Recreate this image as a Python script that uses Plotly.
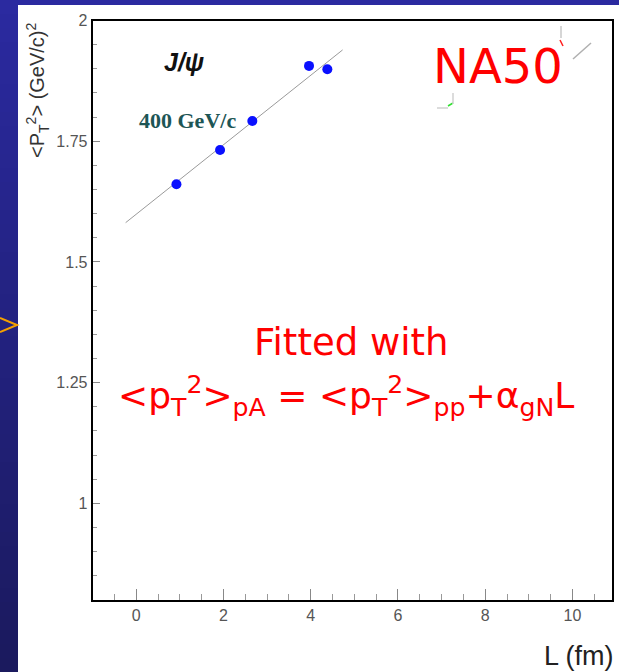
import numpy as np
import plotly.graph_objects as go

# J/psi mean squared transverse momentum vs nuclear path length L (NA50, 400 GeV/c p-A)
L_FM = [0.92, 1.92, 2.66, 3.96, 4.38]
PT2_MEAN = [1.661, 1.732, 1.792, 1.906, 1.899]

# linear fit <pT^2>_pA = <pT^2>_pp + alpha_gN * L
FIT_PT2_PP = 1.599
FIT_ALPHA_GN = 0.0719
FIT_L_RANGE = [-0.245, 4.73]

X_TICKS = [0, 2, 4, 6, 8, 10]
X_TICK_TEXT = ["0", "2", "4", "6", "8", "10"]
Y_TICKS = [1.0, 1.25, 1.5, 1.75, 2.0]
Y_TICK_TEXT = ["1", "1.25", "1.5", "1.75", "2"]

W, H = 619, 672


def px(x):
    return x / W


def py(y):
    return 1 - y / H


fig = go.Figure()

fit_l = np.array(FIT_L_RANGE)
fig.add_trace(go.Scatter(
    x=fit_l, y=FIT_PT2_PP + FIT_ALPHA_GN * fit_l,
    mode="lines", line=dict(color="#9a9a9a", width=1),
    hoverinfo="skip", showlegend=False,
))
fig.add_trace(go.Scatter(
    x=L_FM, y=PT2_MEAN, mode="markers",
    marker=dict(color="#0a10ff", size=10, line=dict(width=0)),
    showlegend=False,
))

# slide background: blue gradient strip on the left, thin band along the top
shapes = []
n_bands = 48
top_rgb = np.array([43, 42, 160])
bot_rgb = np.array([27, 26, 94])
for i in range(n_bands):
    t = i / (n_bands - 1)
    c = (top_rgb * (1 - t) + bot_rgb * t).astype(int)
    y0 = i * H / n_bands
    # each band runs to the bottom so the next one overlaps it without seams
    shapes.append(dict(type="rect", xref="paper", yref="paper",
                       x0=0, x1=px(18), y0=0, y1=py(y0),
                       fillcolor=f"rgb({c[0]},{c[1]},{c[2]})", line=dict(width=0),
                       layer="below"))
shapes.append(dict(type="rect", xref="paper", yref="paper",
                   x0=0, x1=1, y0=py(5), y1=1,
                   fillcolor="rgb(43,42,160)", line=dict(width=0), layer="below"))
# orange bullet chevron on the slide edge
shapes.append(dict(type="path", xref="paper", yref="paper",
                   path=f"M {px(0)},{py(318)} L {px(17)},{py(325)} L {px(0)},{py(332)}",
                   line=dict(color="#f4a000", width=2)))
# small stray strokes around the NA50 label
for (x0, y0, x1, y1, col) in [
    (561, 26, 561, 38, "#c8c8c8"),
    (560, 40, 563, 46, "#ff2020"),
    (573, 59, 591, 43, "#b0b0b0"),
    (437, 108, 448, 108, "#d0d0d0"),
    (448, 106, 453, 103, "#30e030"),
    (453, 93, 453, 104, "#d0d0d0"),
]:
    shapes.append(dict(type="line", xref="paper", yref="paper",
                       x0=px(x0), y0=py(y0), x1=px(x1), y1=py(y1),
                       line=dict(color=col, width=1.5)))

red = "#ff0000"


def label(text, x, y, size, family, color, **kw):
    d = dict(text=text, x=px(x), y=py(y), xref="paper", yref="paper",
             xanchor="center", yanchor="middle", showarrow=False,
             font=dict(family=family, size=size, color=color))
    d.update(kw)
    return d


annotations = [
    label("<b><i>J/ψ</i></b>", 184, 62, 25, "Liberation Sans", "#111111"),
    label("<b>400 GeV/c</b>", 187, 120, 22, "Liberation Serif", "#1d5555"),
    label("NA50", 498, 66, 48, "DejaVu Sans", red),
    label("Fitted with", 351, 342, 37, "DejaVu Sans", red),
    label("&lt;p<sub>T</sub><sup>2</sup>&gt;<sub>pA</sub> = "
          "&lt;p<sub>T</sub><sup>2</sup>&gt;<sub>pp</sub>+α<sub>gN</sub>L",
          346, 396, 36, "DejaVu Sans", red),
    label("&lt;P<sub>T</sub><sup>2</sup>&gt; (GeV/c)<sup>2</sup>", 38, 90, 20,
          "Liberation Sans", "#333333", textangle=-90),
    label("L (fm)", 616, 656, 27, "Liberation Sans", "#222222", xanchor="right"),
]

tick_font = dict(family="Liberation Sans", size=16, color="#555555")
fig.update_layout(
    width=W, height=H,
    margin=dict(l=0, r=0, t=0, b=0),
    paper_bgcolor="white", plot_bgcolor="white",
    shapes=shapes, annotations=annotations,
    xaxis=dict(
        domain=[px(92.7), px(611.7)], range=[-1, 10.9], automargin=False,
        tickvals=X_TICKS, ticktext=X_TICK_TEXT,
        ticks="inside", ticklen=11, tickwidth=1, tickcolor="#888888",
        minor=dict(dtick=0.5, tick0=0, ticks="inside", ticklen=6, tickcolor="#999999"),
        showline=True, linecolor="black", linewidth=2, mirror=True,
        showgrid=False, zeroline=False, tickfont=tick_font,
    ),
    yaxis=dict(
        domain=[py(600), py(20.5)], range=[0.8, 2.0], automargin=False,
        tickvals=Y_TICKS, ticktext=Y_TICK_TEXT,
        ticks="inside", ticklen=7, tickwidth=1, tickcolor="#888888",
        minor=dict(dtick=0.05, tick0=1, ticks="inside", ticklen=4, tickcolor="#999999"),
        showline=True, linecolor="black", linewidth=2, mirror=True,
        showgrid=False, zeroline=False, tickfont=tick_font,
    ),
)

fig.write_html("out.html")
